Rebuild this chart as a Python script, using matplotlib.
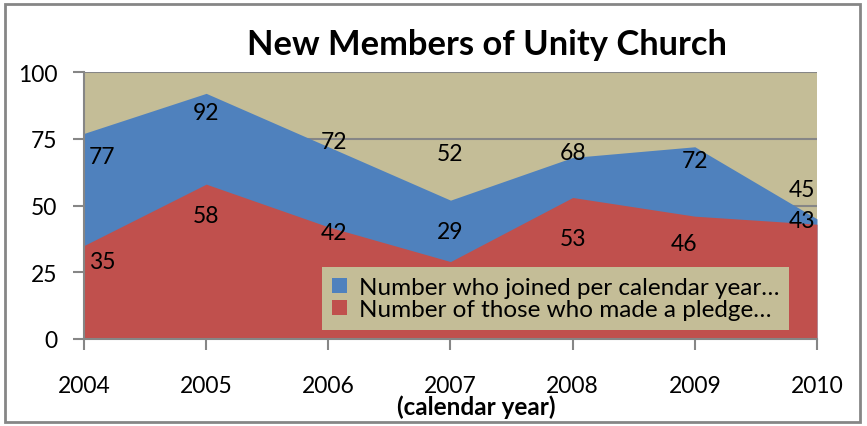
import matplotlib.pyplot as plt
from matplotlib.patches import Patch, Rectangle

years = [2004, 2005, 2006, 2007, 2008, 2009, 2010]
joined = [77, 92, 72, 52, 68, 72, 45]
pledged = [35, 58, 42, 29, 53, 46, 43]

# where Excel put the data labels (x shift in years, y in data units)
joined_label_dx = [0.15, 0, 0.05, 0, 0, 0, -0.12]
joined_label_y = [68.5, 85, 73.8, 69.3, 70, 66.7, 56]
pledged_label_dx = [0.15, 0, 0.05, 0, 0, -0.09, -0.12]
pledged_label_y = [29.2, 46.4, 40, 40.4, 37.5, 35.6, 44.2]

legend_labels = ["Number who joined per calendar year\u2026",
                 "Number of those who made a pledge\u2026"]

beige = "#C4BD97"
blue = "#4F81BD"
red = "#C0504D"
grey = "#868686"

plt.rcParams['font.family'] = ['Lato', 'DejaVu Sans']

fig = plt.figure(figsize=(8.67, 4.27), dpi=100)
ax = fig.add_axes([84 / 867, 1 - 340 / 427, 733 / 867, 267 / 427])
ax.set_facecolor(beige)

ax.fill_between(years, 0, joined, color=blue, lw=0, zorder=2)
ax.fill_between(years, 0, pledged, color=red, lw=0, zorder=3)

for x, dx, y, v in zip(years, joined_label_dx, joined_label_y, joined):
    ax.text(x + dx, y, str(v), ha='center', va='center', fontsize=16.5, zorder=5)
for x, dx, y, v in zip(years, pledged_label_dx, pledged_label_y, pledged):
    ax.text(x + dx, y, str(v), ha='center', va='center', fontsize=16.5, zorder=5)

ax.set_xlim(2004, 2010)
ax.set_ylim(0, 100)
ax.set_xticks(years)
ax.set_yticks([0, 25, 50, 75, 100])
ax.yaxis.grid(True, color=grey, lw=1.5)
ax.set_axisbelow(True)

for s in ['top', 'right']:
    ax.spines[s].set_visible(False)
for s in ['left', 'bottom']:
    ax.spines[s].set_color(grey)
    ax.spines[s].set_linewidth(1.5)
    ax.spines[s].set_zorder(6)
ax.tick_params(axis='both', length=8, width=1.5, color=grey, labelsize=16.5)
ax.tick_params(axis='x', pad=18)
ax.tick_params(axis='y', pad=11)

handles = [Patch(facecolor=blue), Patch(facecolor=red)]
leg = ax.legend(handles, legend_labels, loc='lower left',
                bbox_to_anchor=(0.325, 0.034), fontsize=17.5,
                frameon=True, fancybox=False, framealpha=1,
                facecolor=beige, edgecolor='none',
                handlelength=0.6, handleheight=0.6, handletextpad=0.5,
                labelspacing=0.05, borderpad=0.4, borderaxespad=0)
leg.set_zorder(7)

fig.text(487 / 867, 1 - 45 / 427, "New Members of Unity Church",
         ha='center', va='center', fontsize=24.8, fontweight='bold')
fig.text(476 / 867, 1 - 407 / 427, "(calendar year)",
         ha='center', va='center', fontsize=17.5, fontweight='bold')

fig.patches.append(Rectangle((5 / 867, 4 / 427), 855 / 867, 418 / 427,
                             transform=fig.transFigure, fill=False,
                             edgecolor=grey, lw=2))

fig.savefig("out.png", dpi=100)
